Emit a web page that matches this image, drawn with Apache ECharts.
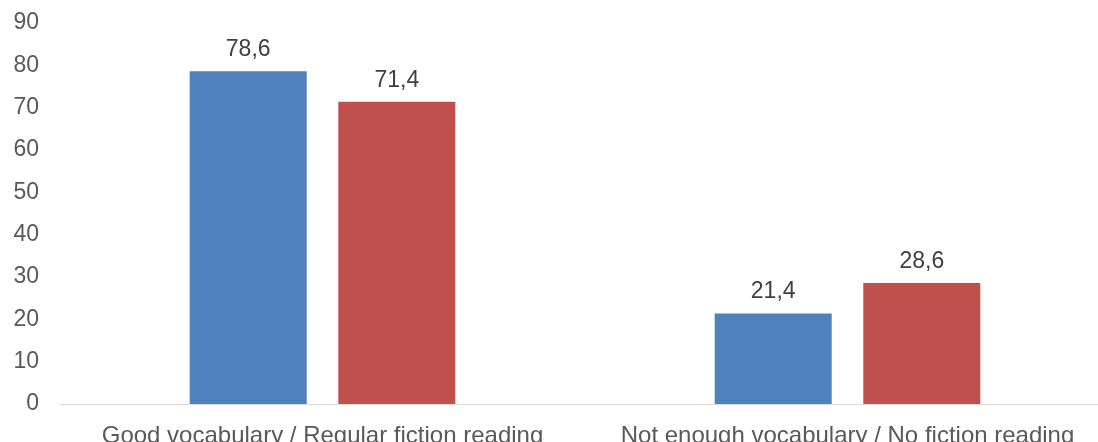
<!DOCTYPE html>
<html>
<head>
<meta charset="utf-8">
<script src="https://cdn.jsdelivr.net/npm/echarts@6/dist/echarts.min.js"></script>
<style>
  html, body { margin: 0; padding: 0; background: #ffffff; overflow: hidden; }
  /* plot area runs slightly past the right edge of the page */
  #chart { width: 1110px; height: 442px; }
</style>
</head>
<body>
<div id="chart"></div>
<script>
// Categories and the two series shown for each
const categories = ['Good vocabulary / Regular fiction reading', 'Not enough vocabulary / No fiction reading'];
const vocabularyValues = [78.6, 21.4];
const readingValues = [71.4, 28.6];
const yTicks = [0, 10, 20, 30, 40, 50, 60, 70, 80, 90];

const chart = echarts.init(document.getElementById('chart'), null, { renderer: 'canvas' });

const FONT = 'Liberation Sans, Arial, sans-serif';
const fmt = v => String(v).replace('.', ',');
const labelStyle = {
  show: true,
  position: 'top',
  distance: 10,
  color: '#404040',
  fontSize: 23,
  fontFamily: FONT,
  formatter: p => fmt(p.value)
};

chart.setOption({
  animation: false,
  grid: { left: 60, right: 0, top: 23, bottom: 38, containLabel: false, outerBoundsMode: 'none' },
  xAxis: {
    type: 'category',
    data: categories,
    axisLine: { show: true, lineStyle: { color: '#D9D9D9', width: 1 } },
    axisTick: { show: false },
    axisLabel: {
      color: '#595959',
      fontSize: 24,
      fontFamily: FONT,
      margin: 20,
      interval: 0
    }
  },
  yAxis: {
    type: 'value',
    min: yTicks[0],
    max: yTicks[yTicks.length - 1],
    interval: 10,
    splitLine: { show: false },
    axisLine: { show: false },
    axisTick: { show: false },
    axisLabel: {
      color: '#595959',
      fontSize: 23,
      fontFamily: FONT,
      margin: 21
    }
  },
  series: [
    {
      type: 'bar',
      data: vocabularyValues,
      barWidth: 117,
      barGap: '27%',
      itemStyle: { color: '#4F81BD' },
      label: labelStyle
    },
    {
      type: 'bar',
      data: readingValues,
      barWidth: 117,
      itemStyle: { color: '#C0504D' },
      label: labelStyle
    }
  ]
});
</script>
</body>
</html>
